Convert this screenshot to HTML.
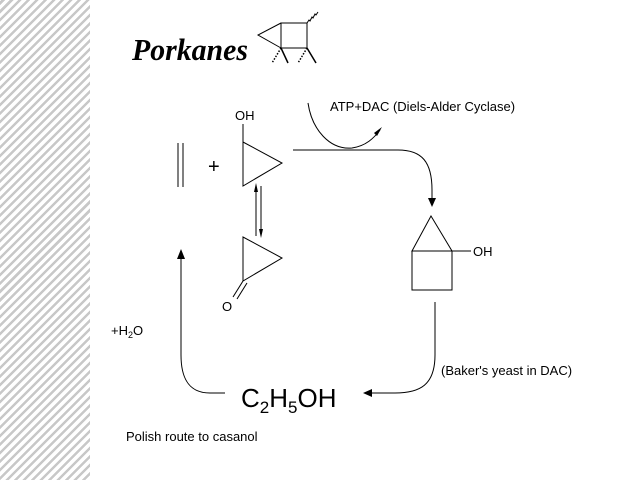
<!DOCTYPE html>
<html><head><style>
html,body{margin:0;padding:0;background:#fff;}
body{width:640px;height:480px;position:relative;overflow:hidden;font-family:"Liberation Sans",sans-serif;}
.stripes{position:absolute;left:0;top:0;width:90px;height:480px;
background:repeating-linear-gradient(-45deg,#fff 0,#fff 3.5px,#c8c8c8 3.5px,#c8c8c8 6px);}
</style></head><body>
<div class="stripes"></div>
<svg width="640" height="480" style="position:absolute;left:0;top:0" font-family="Liberation Sans, sans-serif">
<text x="132" y="60" font-family="Liberation Serif, serif" font-style="italic" font-weight="bold" font-size="31" fill="#000" textLength="116" lengthAdjust="spacingAndGlyphs">Porkanes</text>
<g stroke="#000" fill="none" stroke-width="1">
<!-- dog -->
<polyline points="281,23 258,35 281,48"/>
<rect x="281" y="23" width="26" height="25"/>
<polyline points="307,23 309,20 310,21 312,17 313,18 315,14 316,15 318,12"/>
<line x1="281" y1="48" x2="272" y2="63" stroke-dasharray="1.5,1.5" stroke-width="1.5"/>
<line x1="281" y1="48" x2="288" y2="63" stroke-width="1.5"/>
<line x1="307" y1="48" x2="298" y2="63" stroke-dasharray="1.5,1.5" stroke-width="1.5"/>
<line x1="307" y1="48" x2="316" y2="63" stroke-width="1.5"/>
<!-- ethylene -->
<line x1="178" y1="143" x2="178" y2="187"/>
<line x1="183" y1="143" x2="183" y2="187"/>
<!-- cyclopropanol -->
<polygon points="243,142 243,186 282,163"/>
<line x1="243" y1="142" x2="243" y2="124"/>
<!-- equilibrium -->
<line x1="256" y1="186" x2="256" y2="236"/>
<line x1="261" y1="186" x2="261" y2="236"/>
<!-- cyclopropanone -->
<polygon points="243,237 243,281 282,258"/>
<line x1="243" y1="281" x2="233" y2="297"/>
<line x1="247" y1="283" x2="237" y2="299"/>
<!-- top arrow -->
<path d="M293,150 L398,150 C422,150 432,162 432,190 L432,200"/>
<path d="M308,103 C312,130 330,150 352,148 C366,146 374,138 380,130"/>
<!-- bicyclic -->
<polygon points="431,216 412,251 452,251"/>
<rect x="412" y="251" width="40" height="39"/>
<line x1="452" y1="251" x2="471" y2="251"/>
<!-- right-bottom arrow -->
<path d="M435,302 L435,355 C435,385 420,393 395,393 L370,393"/>
<!-- left arrow -->
<path d="M225,393 L210,393 C190,393 181,380 181,355 L181,258"/>
</g>
<g fill="#000">
<polygon points="432,207 428,198 436,198"/>
<polygon points="382,127 374,133 377,136"/>
<polygon points="363,393 372,389 372,397"/>
<polygon points="181,249 177,259 185,259"/>
<polygon points="256,183 254,192 258,192"/>
<polygon points="261,238 259,229 263,229"/>
</g>
<g font-size="13" fill="#000">
<text x="235" y="120">OH</text>
<text x="208" y="173" font-size="20">+</text>
<text x="222" y="311">O</text>
<text x="330" y="111">ATP+DAC (Diels-Alder Cyclase)</text>
<text x="473" y="256">OH</text>
<text x="441" y="375">(Baker's yeast in DAC)</text>
<text x="111" y="335">+H<tspan font-size="9" dy="3">2</tspan><tspan dy="-3">O</tspan></text>
<text x="126" y="441">Polish route to casanol</text>
<text x="241" y="407" font-size="26">C<tspan font-size="17" dy="6">2</tspan><tspan dy="-6">H</tspan><tspan font-size="17" dy="6">5</tspan><tspan dy="-6">OH</tspan></text>
</g>
</svg>
</body></html>
